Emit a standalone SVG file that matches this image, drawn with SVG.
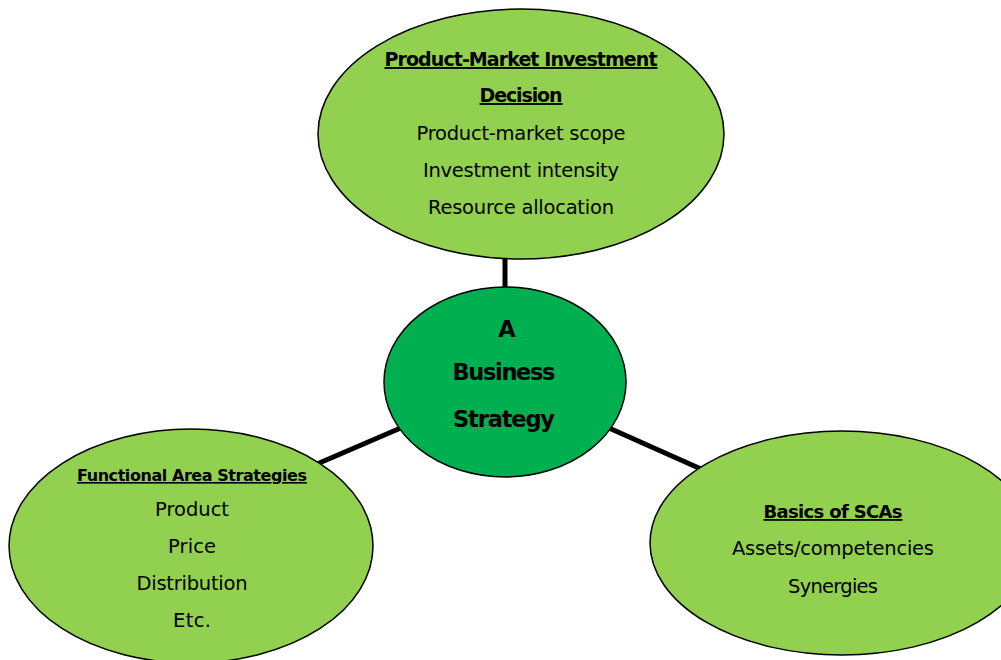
<svg xmlns="http://www.w3.org/2000/svg" width="1001" height="660" viewBox="0 0 1001 660">
<style>
.light{fill:#92D050;stroke:#000;stroke-width:1.5}
.dark{fill:#00B050;stroke:#000;stroke-width:1.5}
.conn{stroke:#000;stroke-width:5;fill:none}
text{font-family:"DejaVu Sans","Liberation Sans",sans-serif;text-anchor:middle;fill:#000}
.h{font-weight:bold;text-decoration:underline}
.t{font-size:19.5px}
.c{font-weight:bold;font-size:22.5px}
</style>
<rect width="1001" height="660" fill="#fff"/>
<g id="connectors">
<line class="conn" x1="505" y1="250" x2="505" y2="295"/>
<line class="conn" x1="410" y1="424" x2="310" y2="467"/>
<line class="conn" x1="600" y1="424" x2="710" y2="473"/>
</g>
<g id="node-top">
<ellipse class="light" cx="521" cy="134" rx="203" ry="125"/>
<text class="h" x="521" y="66" font-size="19" textLength="273">Product-Market Investment</text>
<text class="h" x="521" y="102" font-size="19" textLength="83">Decision</text>
<text class="t" x="521" y="140" textLength="209">Product-market scope</text>
<text class="t" x="521" y="177" textLength="196">Investment intensity</text>
<text class="t" x="521" y="214" textLength="186">Resource allocation</text>
</g>
<g id="node-center">
<ellipse class="dark" cx="505" cy="382" rx="121" ry="95"/>
<text class="c" x="507" y="337">A</text>
<text class="c" x="504" y="380" textLength="103">Business</text>
<text class="c" x="504" y="427" textLength="102">Strategy</text>
</g>
<g id="node-left">
<ellipse class="light" cx="191" cy="546" rx="182" ry="117"/>
<text class="h" x="192" y="481" font-size="16" textLength="230">Functional Area Strategies</text>
<text class="t" x="192" y="516" textLength="74">Product</text>
<text class="t" x="192" y="553" textLength="48">Price</text>
<text class="t" x="192" y="590" textLength="111">Distribution</text>
<text class="t" x="192" y="627" textLength="38">Etc.</text>
</g>
<g id="node-right">
<ellipse class="light" cx="842" cy="543" rx="192" ry="112"/>
<text class="h" x="833" y="518" font-size="18" textLength="139">Basics of SCAs</text>
<text class="t" x="833" y="555" textLength="202">Assets/competencies</text>
<text class="t" x="833" y="593" textLength="90">Synergies</text>
</g>
</svg>
